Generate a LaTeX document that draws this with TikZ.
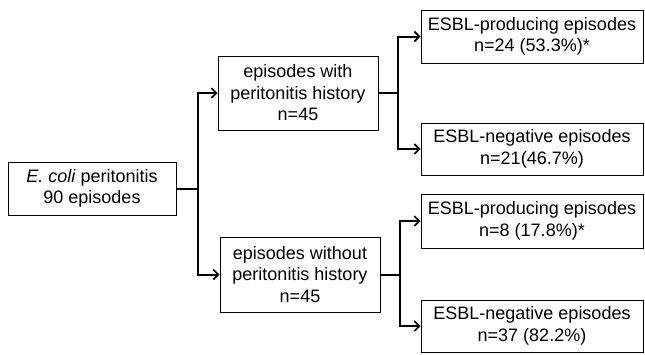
\documentclass[tikz,border=0pt]{standalone}
\usepackage{fontspec}
\setmainfont{Liberation Sans}
\usetikzlibrary{arrows.meta}
\begin{document}
\begin{tikzpicture}[x=1pt,y=-1pt,
  box/.style={draw,line width=1pt,align=center,inner sep=0pt,font=\fontsize{18}{21.5}\selectfont},
  conn/.style={line width=2pt},
  arr/.style={conn,-{Straight Barb[length=5pt,width=10pt,line width=1.6pt]}}]
\useasboundingbox (0,0) rectangle (645,354);
\node[box,minimum width=168pt,minimum height=53pt] (root) at (92,188.5) {\textit{E. coli} peritonitis\\90 episodes};
\node[box,minimum width=160pt,minimum height=74pt] (with) at (298,93) {episodes with\\peritonitis history\\n=45};
\node[box,minimum width=160pt,minimum height=75pt] (without) at (300,274.5) {episodes without\\peritonitis history\\n=45};
\node[box,minimum width=222pt,minimum height=53pt] (p1) at (532,36.5) {ESBL-producing episodes\\n=24 (53.3\%)*};
\node[box,minimum width=222pt,minimum height=52pt] (n1) at (532,149) {ESBL-negative episodes\\n=21(46.7\%)};
\node[box,minimum width=222pt,minimum height=54pt] (p2) at (532,221) {ESBL-producing episodes\\n=8 (17.8\%)*};
\node[box,minimum width=222pt,minimum height=52pt] (n2) at (532,326) {ESBL-negative episodes\\n=37 (82.2\%)};
\coordinate (j0) at (198,188.5);
\coordinate (j1) at (398,93);
\coordinate (j2) at (400,274.5);
\draw[conn] (root.east) -- (j0);
\draw[arr] (j0) |- (with.west);
\draw[arr] (j0) |- (without.west);
\draw[conn] (with.east) -- (j1);
\draw[arr] (j1) |- (p1.west);
\draw[arr] (j1) |- (n1.west);
\draw[conn] (without.east) -- (j2);
\draw[arr] (j2) |- (p2.west);
\draw[arr] (j2) |- (n2.west);
\end{tikzpicture}
\end{document}
